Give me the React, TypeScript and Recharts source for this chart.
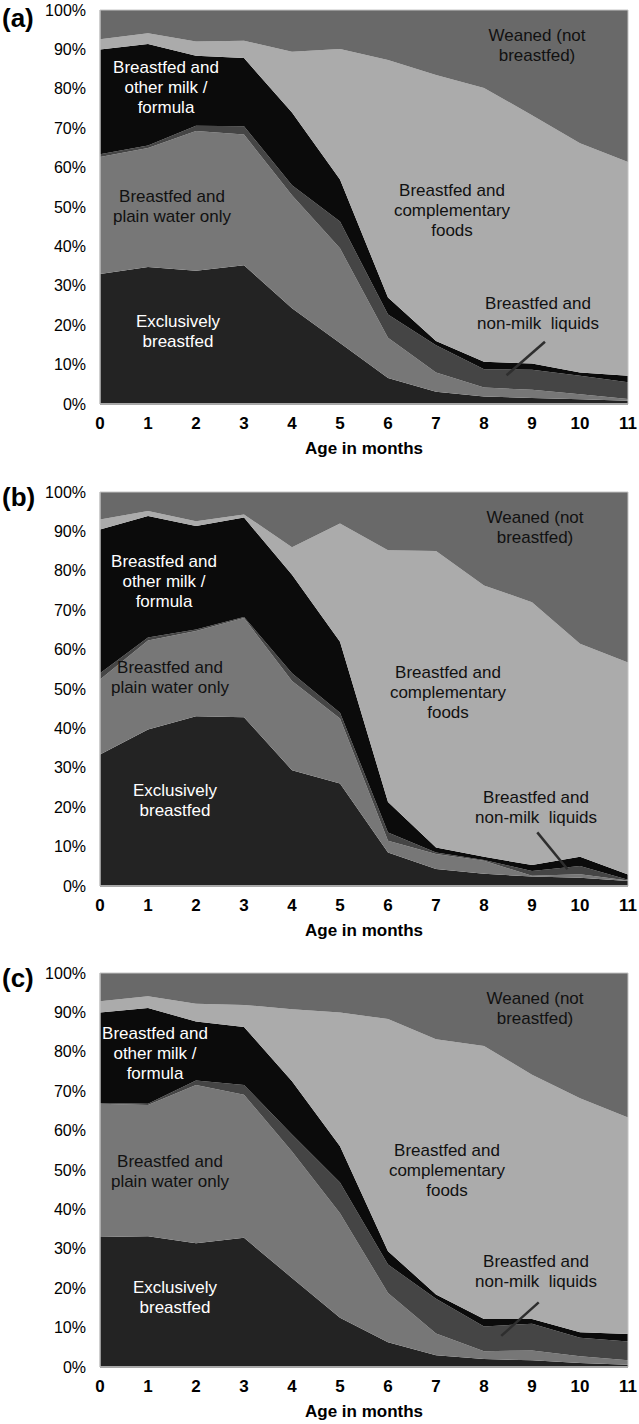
import React from "react";
import {
  AreaChart,
  Area,
  XAxis,
  YAxis,
  ReferenceLine,
  ReferenceArea,
} from "recharts";

const MONTHS = [0, 1, 2, 3, 4, 5, 6, 7, 8, 9, 10, 11];
const Y_TICKS = [0, 10, 20, 30, 40, 50, 60, 70, 80, 90, 100];

// (a) shares of infants per feeding category, % (not cumulative)
const A_EXCLUSIVE = [33, 34.8, 33.8, 35.2, 24.3, 15.5, 6.6, 3.1, 1.9, 1.5, 1.2, 0.8];
const A_WATER = [29.7, 30.2, 35.5, 33.2, 28.7, 24, 10.2, 4.9, 2.3, 2.1, 1.3, 0.5];
const A_NONMILK = [0.7, 0.6, 1.3, 2.1, 2.5, 6.8, 5.9, 6.9, 4.6, 5.1, 4.7, 4.2];
const A_MILK = [26.6, 25.8, 17.8, 17.3, 18.5, 10.7, 4.3, 1.1, 1.9, 1.6, 0.8, 1.7];
const A_COMPLEMENTARY = [2.6, 2.7, 3.6, 4.4, 15.4, 33.1, 60.3, 67.5, 69.5, 63, 58.2, 54.2];
const A_WEANED = [7.4, 5.9, 8, 7.8, 10.6, 9.9, 12.7, 16.5, 19.8, 26.7, 33.8, 38.6];

// (b)
const B_EXCLUSIVE = [33.4, 39.7, 43.1, 42.8, 29.4, 26, 8.5, 4.3, 3.1, 2.4, 2.1, 1.3];
const B_WATER = [19, 22.6, 21.6, 25.2, 22.6, 16.5, 3, 3.8, 3.3, 0.2, 0.9, 0.1];
const B_NONMILK = [1.6, 0.8, 0.4, 0.3, 2, 1.5, 2.1, 0.4, 0.2, 1.2, 2.1, 0.2];
const B_MILK = [36.5, 30.8, 26.3, 25.2, 25, 18, 7.7, 1.3, 0.8, 1.5, 2.3, 1.3];
const B_COMPLEMENTARY = [2.5, 1.3, 1.2, 0.8, 7, 30, 63.9, 75.2, 68.9, 66.7, 54.1, 53.8];
const B_WEANED = [7, 4.8, 7.4, 5.7, 14, 8, 14.8, 15, 23.7, 28, 38.5, 43.3];

// (c)
const C_EXCLUSIVE = [33, 33.2, 31.4, 32.8, 22.6, 12.5, 6.3, 3, 2, 1.7, 1, 0.6];
const C_WATER = [33.8, 33.3, 40.2, 36.3, 32.1, 26.5, 12.5, 5.5, 2, 2.5, 1.7, 1.1];
const C_NONMILK = [0.2, 0.3, 1.1, 2.5, 4.3, 7.8, 7.2, 8.8, 6.3, 6.8, 4.7, 4.8];
const C_MILK = [23, 24.3, 15, 14.7, 13.5, 9.2, 3.4, 1.1, 1.9, 1.2, 1.4, 1.9];
const C_COMPLEMENTARY = [2.8, 3, 4.5, 5.6, 18.3, 34, 58.9, 64.8, 69.3, 62, 59.4, 54.9];
const C_WEANED = [7.2, 5.9, 7.8, 8.1, 9.2, 10, 11.7, 16.8, 18.5, 25.8, 31.8, 36.7];

const SERIES = [
  { key: "exclusive", color: "#232323" },
  { key: "water", color: "#777777" },
  { key: "nonmilk", color: "#454545" },
  { key: "milk", color: "#0b0b0b" },
  { key: "complementary", color: "#ababab" },
  { key: "weaned", color: "#696969" },
];

const FONT = '"Liberation Sans", Arial, sans-serif';
const W = 639;
const H = 470;
const PLOT_H = 394;

function buildData(cols: number[][]) {
  return MONTHS.map((m, i) => ({
    month: m,
    exclusive: cols[0][i],
    water: cols[1][i],
    nonmilk: cols[2][i],
    milk: cols[3][i],
    complementary: cols[4][i],
    weaned: cols[5][i],
  }));
}

type Note = { x: number; y: number; lines: string[]; white?: boolean };

const PANELS = [
  {
    tag: "(a)",
    top: 0,
    tagY: 3,
    data: buildData([A_EXCLUSIVE, A_WATER, A_NONMILK, A_MILK, A_COMPLEMENTARY, A_WEANED]),
    leader: [{ x: 9.27, y: 15.8 }, { x: 8.47, y: 7.3 }],
    notes: [
      { x: 537, y: 26, lines: ["Weaned (not", "breastfed)"] },
      { x: 452, y: 181, lines: ["Breastfed and", "complementary", "foods"] },
      { x: 166, y: 58, lines: ["Breastfed and", "other milk /", "formula"], white: true },
      { x: 172, y: 187, lines: ["Breastfed and", "plain water only"] },
      { x: 178, y: 312, lines: ["Exclusively", "breastfed"], white: true },
      { x: 538, y: 294, lines: ["Breastfed and", "non-milk  liquids"] },
    ] as Note[],
  },
  {
    tag: "(b)",
    top: 482,
    tagY: 0,
    data: buildData([B_EXCLUSIVE, B_WATER, B_NONMILK, B_MILK, B_COMPLEMENTARY, B_WEANED]),
    leader: [{ x: 9.11, y: 13.6 }, { x: 9.74, y: 4.25 }],
    notes: [
      { x: 535, y: 26, lines: ["Weaned (not", "breastfed)"] },
      { x: 448, y: 181, lines: ["Breastfed and", "complementary", "foods"] },
      { x: 164, y: 70, lines: ["Breastfed and", "other milk /", "formula"], white: true },
      { x: 170, y: 176, lines: ["Breastfed and", "plain water only"] },
      { x: 175, y: 299, lines: ["Exclusively", "breastfed"], white: true },
      { x: 536, y: 306, lines: ["Breastfed and", "non-milk  liquids"] },
    ] as Note[],
  },
  {
    tag: "(c)",
    top: 963,
    tagY: 0,
    data: buildData([C_EXCLUSIVE, C_WATER, C_NONMILK, C_MILK, C_COMPLEMENTARY, C_WEANED]),
    leader: [{ x: 9.14, y: 16.4 }, { x: 8.36, y: 7.9 }],
    notes: [
      { x: 535, y: 26, lines: ["Weaned (not", "breastfed)"] },
      { x: 447, y: 178, lines: ["Breastfed and", "complementary", "foods"] },
      { x: 155, y: 61, lines: ["Breastfed and", "other milk /", "formula"], white: true },
      { x: 170, y: 189, lines: ["Breastfed and", "plain water only"] },
      { x: 175, y: 315, lines: ["Exclusively", "breastfed"], white: true },
      { x: 536, y: 289, lines: ["Breastfed and", "non-milk  liquids"] },
    ] as Note[],
  },
];

function Panel({ p }: { p: (typeof PANELS)[number] }) {
  return (
    <div style={{ position: "absolute", left: 0, top: p.top, width: W, height: H }}>
      <AreaChart
        width={W}
        height={H}
        data={p.data}
        margin={{ top: 10, right: 3, bottom: 26, left: 0 }}
      >
        <XAxis
          dataKey="month"
          type="number"
          domain={[0, 11]}
          ticks={MONTHS}
          interval={0}
          height={H - 10 - 26 - PLOT_H}
          tickLine={false}
          tickSize={0}
          tickMargin={13}
          axisLine={{ stroke: "#a8a8a8", strokeWidth: 2 }}
          tick={{ fontSize: 17, fontWeight: 700, fill: "#000", fontFamily: FONT }}
        />
        <YAxis
          domain={[0, 100]}
          ticks={Y_TICKS}
          interval={0}
          width={100}
          tickLine={false}
          tickSize={0}
          tickMargin={14}
          axisLine={{ stroke: "#bdbdbd" }}
          tickFormatter={(v: number) => `${v}%`}
          tick={{ fontSize: 16, fill: "#000", fontFamily: FONT }}
        />
        <YAxis
          yAxisId="r"
          orientation="right"
          domain={[0, 100]}
          ticks={Y_TICKS}
          interval={0}
          width={8}
          axisLine={false}
          tickSize={6}
          tickLine={{ stroke: "#d2d2d2" }}
          tickFormatter={() => ""}
        />
        {SERIES.map((s) => (
          <Area
            key={s.key}
            dataKey={s.key}
            stackId="1"
            type="linear"
            stroke="none"
            fill={s.color}
            fillOpacity={1}
            isAnimationActive={false}
            dot={false}
            activeDot={false}
          />
        ))}
        <ReferenceArea
          x1={0}
          x2={11}
          y1={0}
          y2={100}
          fill="none"
          stroke="#c4c4c4"
          strokeWidth={1}
          ifOverflow="visible"
        />
        <ReferenceLine
          segment={p.leader}
          stroke="#2e2e2e"
          strokeWidth={2.5}
          ifOverflow="visible"
        />
      </AreaChart>
      <div
        style={{
          position: "absolute",
          left: 2,
          top: p.tagY,
          fontSize: 26,
          fontWeight: 700,
          fontFamily: FONT,
          color: "#000",
          lineHeight: "30px",
        }}
      >
        {p.tag}
      </div>
      {p.notes.map((n, i) => (
        <div
          key={i}
          style={{
            position: "absolute",
            left: n.x,
            top: n.y,
            transform: "translateX(-50%)",
            textAlign: "center",
            whiteSpace: "nowrap",
            fontSize: 17,
            lineHeight: "20px",
            fontFamily: FONT,
            color: n.white ? "#ffffff" : "#111111",
          }}
        >
          {n.lines.map((l, j) => (
            <div key={j} style={{ whiteSpace: "pre" }}>
              {l}
            </div>
          ))}
        </div>
      ))}
      <div
        style={{
          position: "absolute",
          left: 364,
          top: PLOT_H + 45,
          transform: "translateX(-50%)",
          fontSize: 17,
          fontWeight: 700,
          lineHeight: "20px",
          fontFamily: FONT,
          whiteSpace: "nowrap",
          color: "#000",
        }}
      >
        Age in months
      </div>
    </div>
  );
}

export default function App() {
  return (
    <div
      style={{
        position: "absolute",
        left: 0,
        top: 0,
        width: W,
        height: 1424,
        background: "#fff",
        fontFamily: FONT,
      }}
    >
      {PANELS.map((p) => (
        <Panel key={p.tag} p={p} />
      ))}
    </div>
  );
}
